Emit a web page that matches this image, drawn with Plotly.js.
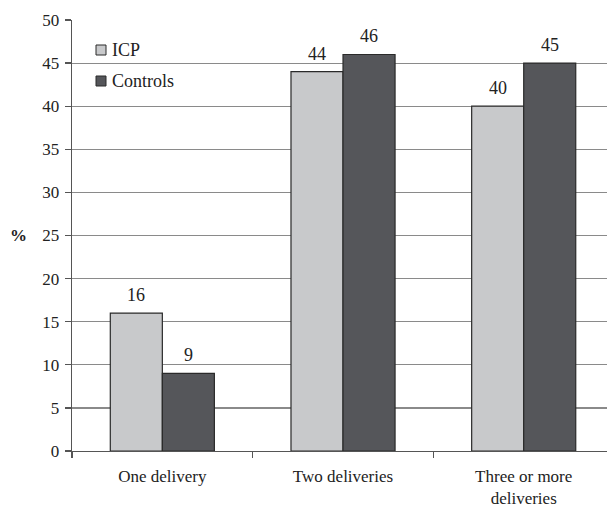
<!DOCTYPE html>
<html>
<head>
<meta charset="utf-8">
<script src="https://cdn.plot.ly/plotly-3.0.1.min.js"></script>
<style>html,body{margin:0;padding:0;background:#fff;}#chart{width:607px;height:510px;}</style>
</head>
<body>
<div id="chart"></div>
<script>
const categories = ["One delivery", "Two deliveries", "Three or more<br>deliveries"];
const icpValues = [16, 44, 40];
const controlValues = [9, 46, 45];
const seriesNames = ["ICP", "Controls"];
const seriesColors = ["#c8c9cb", "#55565a"];
const yTicks = [0, 5, 10, 15, 20, 25, 30, 35, 40, 45, 50];

const FONT = "Liberation Serif";
const TXT = "#222222";

const traces = [
  {type: "bar", name: seriesNames[0], x: categories, y: icpValues,
   marker: {color: seriesColors[0], line: {color: "#2a2a2a", width: 1.2}}, hoverinfo: "skip"},
  {type: "bar", name: seriesNames[1], x: categories, y: controlValues,
   marker: {color: seriesColors[1], line: {color: "#2a2a2a", width: 1.2}}, hoverinfo: "skip"}
];

const annotations = [];
const shapes = [];
categories.forEach((c, i) => {
  annotations.push({x: c, y: icpValues[i], text: String(icpValues[i]), xref: "x", yref: "y",
    showarrow: false, xshift: -26, yshift: 18, font: {family: FONT, size: 18, color: TXT}});
  annotations.push({x: c, y: controlValues[i], text: String(controlValues[i]), xref: "x", yref: "y",
    showarrow: false, xshift: 26, yshift: 18, font: {family: FONT, size: 18, color: TXT}});
});
annotations.push({x: 0, xref: "paper", xanchor: "center", xshift: -54, y: 25, yref: "y",
  text: "<b>%</b>", showarrow: false, font: {family: FONT, size: 17, color: TXT}});

// custom legend (paper coords, plot area 72..607 x 20..451)
const W = 535, H = 431;
seriesNames.forEach((n, k) => {
  const cy = 50 + k * 31;           // pixel center from top of page
  const py = (451 - cy) / H;        // paper y
  const x0 = (96 - 72) / W, x1 = (106 - 72) / W;
  shapes.push({type: "rect", xref: "paper", yref: "paper", x0: x0, x1: x1,
    y0: py - 5 / H, y1: py + 5 / H, fillcolor: seriesColors[k], line: {color: "#2a2a2a", width: 1}});
  annotations.push({xref: "paper", yref: "paper", x: (110 - 72) / W, y: py, xanchor: "left", yanchor: "middle",
    text: n, showarrow: false, font: {family: FONT, size: 18, color: TXT}});
});

const layout = {
  width: 607, height: 510,
  margin: {l: 72, r: 0, t: 20, b: 59, pad: 0},
  paper_bgcolor: "#ffffff", plot_bgcolor: "#ffffff",
  barmode: "group", bargap: 0.424, bargroupgap: 0,
  font: {family: FONT, size: 17, color: TXT},
  showlegend: false,
  xaxis: {type: "category", range: [-0.5, 2.461], showgrid: false, zeroline: false,
    showline: true, linecolor: "#555555", linewidth: 1.3,
    ticks: "outside", tickson: "boundaries", ticklen: 6, tickcolor: "#555555", tickwidth: 1.3,
    ticklabelstandoff: 9, tickfont: {family: FONT, size: 17, color: TXT}},
  yaxis: {range: [0, 50], tickvals: yTicks, ticktext: yTicks.map(String),
    showgrid: true, gridcolor: "#8a8a8a", gridwidth: 1.2, zeroline: false,
    showline: true, linecolor: "#555555", linewidth: 1.3,
    ticks: "outside", ticklen: 6, tickcolor: "#555555", tickwidth: 1.3,
    ticklabelstandoff: 2, tickfont: {family: FONT, size: 17, color: TXT}},
  annotations: annotations,
  shapes: shapes
};

Plotly.newPlot("chart", traces, layout, {displayModeBar: false, staticPlot: true});
</script>
</body>
</html>
